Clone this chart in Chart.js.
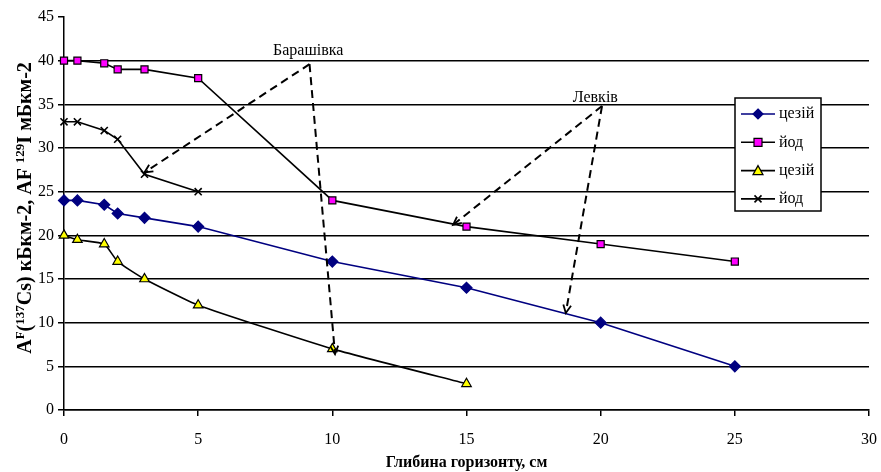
<!DOCTYPE html>
<html lang="uk">
<head>
  <meta charset="UTF-8">
  <title>Глибина горизонту</title>
  <style>
    html, body { margin: 0; padding: 0; background: #fff; }
    #wrap { width: 881px; height: 472px; }
  </style>
</head>
<body>
  <div id="wrap"><canvas id="chart" width="881" height="472"></canvas></div>

  <script src="https://cdn.jsdelivr.net/npm/chart.js"></script>
  <script>
    // data
    const depthLong = [0, 0.5, 1.5, 2, 3, 5, 10, 15, 20, 25];
    const csLevkiv = [24, 24, 23.5, 22.5, 22, 21, 17, 14, 10, 5];
    const iodLevkiv = [40, 40, 39.7, 39, 39, 38, 24, 21, 19, 17];
    const depthCsBar = [0, 0.5, 1.5, 2, 3, 5, 10, 15];
    const csBar = [20, 19.5, 19, 17, 15, 12, 7, 3];
    const depthIodBar = [0, 0.5, 1.5, 2, 3, 5];
    const iodBar = [33, 33, 32, 31, 27, 25];

    const seriesNames = ['цезій', 'йод', 'цезій', 'йод'];
    const xTitle = 'Глибина горизонту, см';

    // dashed arrows: label, apex, and arrow ends (data units)
    const arrowLabels = ['Барашівка', 'Левків'];
    const labelPos = [[9.1, 41.1], [19.8, 35.7]];
    const apexPos = [[9.15, 39.6], [20.05, 34.8]];
    const arrowEnds = [
      [[3.0, 27.2], [10.1, 6.4]],
      [[14.5, 21.2], [18.7, 11.1]]
    ];

    const FONT = "'Liberation Serif', 'Times New Roman', serif";

    const pts = (xs, ys) => xs.map((x, i) => ({ x: x, y: ys[i] }));

    function drawMarker(ctx, style, x, y, fill) {
      ctx.save();
      ctx.lineWidth = 1.2;
      ctx.strokeStyle = '#000';
      ctx.fillStyle = fill;
      ctx.beginPath();
      if (style === 'rectRot') {
        ctx.strokeStyle = '#000080';
        ctx.moveTo(x, y - 5); ctx.lineTo(x + 5, y); ctx.lineTo(x, y + 5); ctx.lineTo(x - 5, y);
        ctx.closePath(); ctx.fill(); ctx.stroke();
      } else if (style === 'rect') {
        ctx.rect(x - 4, y - 4, 8, 8); ctx.fill(); ctx.stroke();
      } else if (style === 'triangle') {
        ctx.moveTo(x, y - 5); ctx.lineTo(x + 5, y + 4); ctx.lineTo(x - 5, y + 4);
        ctx.closePath(); ctx.fill(); ctx.stroke();
      } else {
        ctx.lineWidth = 1.6;
        ctx.moveTo(x - 3.5, y - 3.5); ctx.lineTo(x + 3.5, y + 3.5);
        ctx.moveTo(x + 3.5, y - 3.5); ctx.lineTo(x - 3.5, y + 3.5);
        ctx.stroke();
      }
      ctx.restore();
    }

    const extras = {
      id: 'extras',
      afterDatasetsDraw(chart) {
        const ctx = chart.ctx;
        const xs = chart.scales.x, ys = chart.scales.y;

        // dashed arrows with labels
        ctx.save();
        ctx.strokeStyle = '#000';
        ctx.fillStyle = '#000';
        arrowLabels.forEach((lab, i) => {
          const ax = xs.getPixelForValue(apexPos[i][0]);
          const ay = ys.getPixelForValue(apexPos[i][1]);
          arrowEnds[i].forEach(e => {
            const ex = xs.getPixelForValue(e[0]);
            const ey = ys.getPixelForValue(e[1]);
            ctx.lineWidth = 2;
            ctx.setLineDash([8, 5]);
            ctx.beginPath(); ctx.moveTo(ax, ay); ctx.lineTo(ex, ey); ctx.stroke();
            ctx.setLineDash([]);
            const ang = Math.atan2(ey - ay, ex - ax);
            const L = 9, w = 0.45;
            ctx.lineWidth = 1.8;
            ctx.beginPath();
            ctx.moveTo(ex - L * Math.cos(ang - w), ey - L * Math.sin(ang - w));
            ctx.lineTo(ex, ey);
            ctx.lineTo(ex - L * Math.cos(ang + w), ey - L * Math.sin(ang + w));
            ctx.stroke();
          });
          ctx.font = '16px ' + FONT;
          ctx.textAlign = 'center';
          ctx.textBaseline = 'middle';
          ctx.fillText(lab, xs.getPixelForValue(labelPos[i][0]), ys.getPixelForValue(labelPos[i][1]));
        });
        ctx.restore();

        // legend box
        const bx = 735, by = 98, bw = 86, bh = 113;
        ctx.save();
        ctx.fillStyle = '#fff';
        ctx.fillRect(bx, by, bw, bh);
        ctx.strokeStyle = '#000';
        ctx.lineWidth = 1.5;
        ctx.strokeRect(bx, by, bw, bh);
        chart.data.datasets.forEach((ds, i) => {
          const yy = by + 16 + i * 28.3;
          ctx.strokeStyle = ds.borderColor;
          ctx.lineWidth = 1.6;
          ctx.beginPath(); ctx.moveTo(741, yy); ctx.lineTo(775, yy); ctx.stroke();
          drawMarker(ctx, ds.pointStyle, 758, yy, ds.pointBackgroundColor);
          ctx.fillStyle = '#000';
          ctx.font = '16px ' + FONT;
          ctx.textAlign = 'left';
          ctx.textBaseline = 'middle';
          ctx.fillText(ds.label, 779, yy);
        });
        ctx.restore();

        // y axis title with superscripts
        const parts = [
          ['A', 0], ['F', 1], ['(', 0], ['137', 1], ['Cs) кБкм-2, AF ', 0], ['129', 1], ['I мБкм-2', 0]
        ];
        ctx.save();
        ctx.translate(25, 208);
        ctx.rotate(-Math.PI / 2);
        ctx.fillStyle = '#000';
        ctx.textBaseline = 'alphabetic';
        ctx.textAlign = 'left';
        const fontFor = sup => 'bold ' + (sup ? '13px ' : '20px ') + FONT;
        let total = 0;
        parts.forEach(p => { ctx.font = fontFor(p[1]); total += ctx.measureText(p[0]).width; });
        let cx = -total / 2;
        parts.forEach(p => {
          ctx.font = fontFor(p[1]);
          ctx.fillText(p[0], cx, p[1] ? -1 : 6);
          cx += ctx.measureText(p[0]).width;
        });
        ctx.restore();
      }
    };

    const common = { borderWidth: 1.6, pointRadius: 5, pointHoverRadius: 5, pointBorderWidth: 1.2, tension: 0, clip: false };

    new Chart(document.getElementById('chart'), {
      type: 'line',
      data: {
        datasets: [
          Object.assign({}, common, {
            label: seriesNames[0], data: pts(depthLong, csLevkiv),
            borderColor: '#000080', pointStyle: 'rectRot', pointRadius: 5.5,
            pointBackgroundColor: '#000080', pointBorderColor: '#000080'
          }),
          Object.assign({}, common, {
            label: seriesNames[1], data: pts(depthLong, iodLevkiv),
            borderColor: '#000', pointStyle: 'rect', pointRadius: 5,
            pointBackgroundColor: '#ff00ff', pointBorderColor: '#000'
          }),
          Object.assign({}, common, {
            label: seriesNames[2], data: pts(depthCsBar, csBar),
            borderColor: '#000', pointStyle: 'triangle', pointRadius: 5.5, tension: 0.15,
            pointBackgroundColor: '#ffff00', pointBorderColor: '#000'
          }),
          Object.assign({}, common, {
            label: seriesNames[3], data: pts(depthIodBar, iodBar),
            borderColor: '#000', pointStyle: 'crossRot', pointRadius: 5, pointBorderWidth: 1.6,
            pointBackgroundColor: '#000', pointBorderColor: '#000'
          })
        ]
      },
      options: {
        responsive: false,
        animation: false,
        layout: { padding: { top: 17, right: 12, left: 0, bottom: 0 } },
        plugins: { legend: { display: false }, tooltip: { enabled: false } },
        scales: {
          x: {
            type: 'linear', min: 0, max: 30,
            ticks: { stepSize: 5, color: '#000', font: { family: FONT, size: 16 }, padding: 14 },
            grid: { display: true, drawOnChartArea: false, drawTicks: true, tickLength: 6, color: '#000', lineWidth: 1.5 },
            border: { color: '#000', width: 1.5 },
            title: { display: true, text: xTitle, color: '#000', font: { family: FONT, size: 16, weight: 'bold' }, padding: { top: 3, bottom: 0 } },
            afterFit(s) { s.height = 62; s.paddingLeft = 0; s.paddingRight = 0; }
          },
          y: {
            min: 0, max: 45,
            ticks: { stepSize: 5, color: '#000', font: { family: FONT, size: 16 }, padding: 4 },
            grid: {
              color: c => (c.tick && (c.tick.value === 45) ? 'rgba(0,0,0,0)' : '#000'),
              lineWidth: 1.5, tickLength: 6, tickColor: '#000'
            },
            border: { color: '#000', width: 1.5 },
            afterFit(s) { s.width = 64; s.paddingTop = 0; s.paddingBottom = 0; }
          }
        }
      },
      plugins: [extras]
    });
  </script>
</body>
</html>
